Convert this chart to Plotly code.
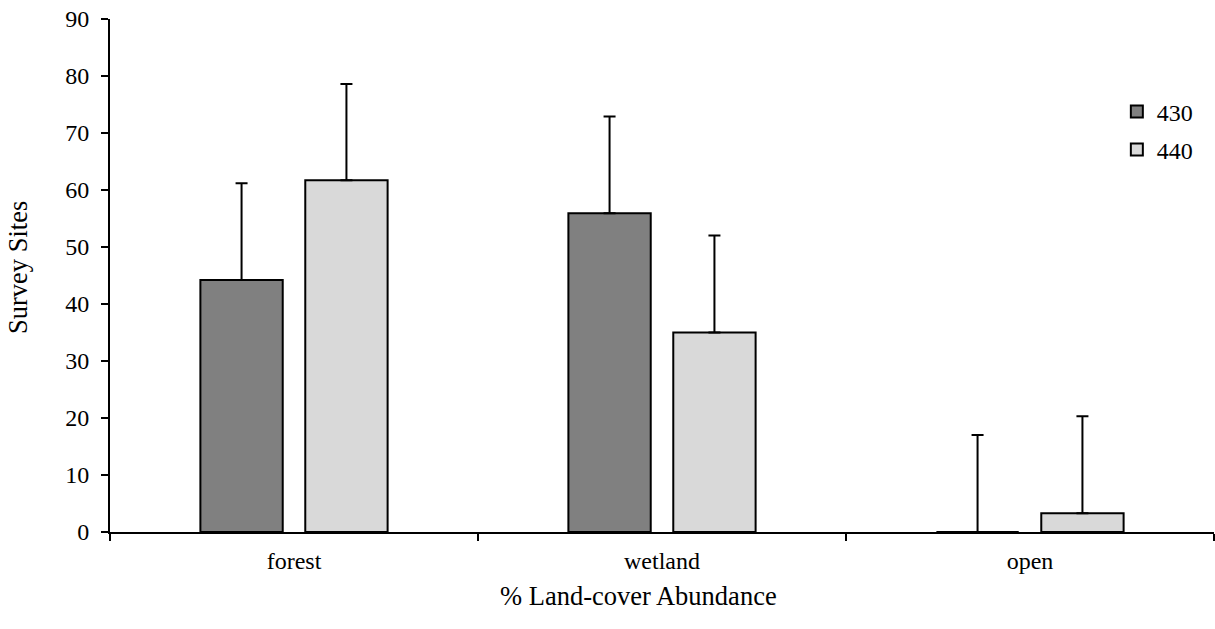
import plotly.graph_objects as go

# Land-cover categories and mean survey-site counts per route
categories = ["forest", "wetland", "open"]
route_names = ["430", "440"]
values_430 = [44.2, 55.9, 0.0]
values_440 = [61.7, 35.0, 3.3]
errors_430 = [17.0, 17.0, 17.0]
errors_440 = [16.9, 17.0, 17.0]
y_ticks = [0, 10, 20, 30, 40, 50, 60, 70, 80, 90]

FONT = "Times New Roman, Liberation Serif, DejaVu Serif, serif"
SIZE = 24
TITLE_SIZE = 26.5
fills = ["#808080", "#d9d9d9"]

fig = go.Figure()
for name, vals, errs, fill in zip(route_names, [values_430, values_440],
                                  [errors_430, errors_440], fills):
    fig.add_trace(go.Bar(
        x=categories, y=vals, name=name, legendgroup=name,
        marker=dict(color=fill, line=dict(color="black", width=2)),
        error_y=dict(type="data", array=errs, arrayminus=[0] * len(errs),
                     symmetric=False, color="black", thickness=2, width=6),
    ))

fig.update_layout(
    width=1215, height=629,
    margin=dict(l=110, r=1, t=19, b=97),
    paper_bgcolor="white", plot_bgcolor="white",
    barmode="group", bargap=0.43, bargroupgap=0.215,
    font=dict(family=FONT, size=SIZE, color="black"),
    showlegend=True,
    legend=dict(x=0.912, y=0.863, xanchor="left", yanchor="top",
                font=dict(family=FONT, size=SIZE, color="black"),
                tracegroupgap=4, bgcolor="rgba(0,0,0,0)"),
)
fig.update_xaxes(
    showline=True, linecolor="black", linewidth=2,
    ticks="outside", tickson="boundaries", ticklen=7, tickwidth=1.5,
    tickcolor="black", showgrid=False, ticklabelstandoff=6,
    tickfont=dict(family=FONT, size=SIZE, color="black"),
)
fig.update_yaxes(
    range=[0, 90], tickvals=y_ticks, showline=True, linecolor="black",
    linewidth=2, ticks="outside", ticklen=7, tickwidth=1.5, tickcolor="black",
    showgrid=False, zeroline=False, ticklabelstandoff=7,
    tickfont=dict(family=FONT, size=SIZE, color="black"),
)

fig.add_annotation(text="% Land-cover Abundance", xref="paper", yref="paper",
                   x=(638 - 110) / 1104, y=-(596 - 531.7) / 512.4,
                   showarrow=False,
                   font=dict(family=FONT, size=TITLE_SIZE, color="black"),
                   xanchor="center", yanchor="middle")
fig.add_annotation(text="Survey Sites", xref="paper", yref="paper",
                   x=-(110 - 18) / 1104, y=(531.7 - 268) / 512.4,
                   textangle=-90, showarrow=False,
                   font=dict(family=FONT, size=TITLE_SIZE, color="black"),
                   xanchor="center", yanchor="middle")

fig.write_html("out.html")
